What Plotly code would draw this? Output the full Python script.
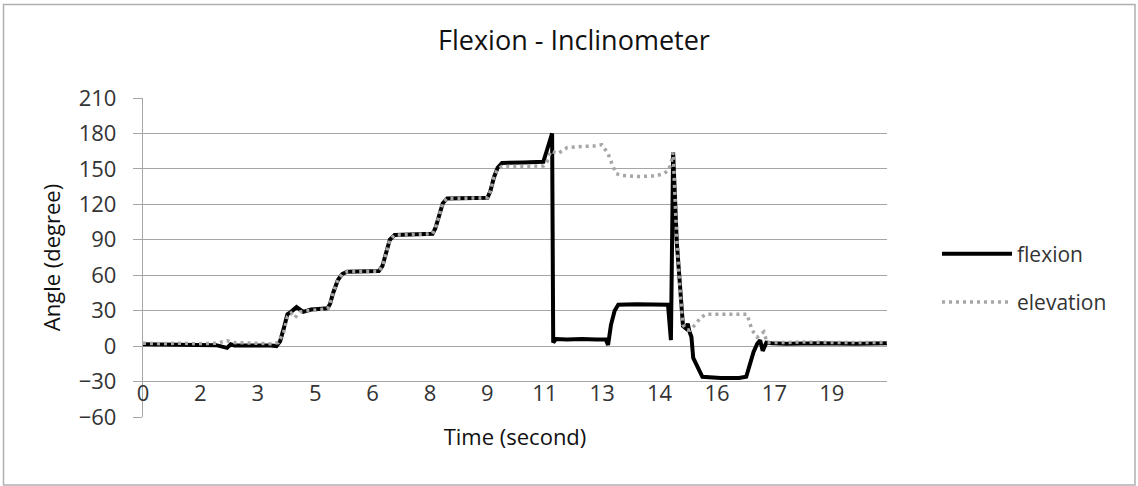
import plotly.graph_objects as go

# Flexion angle (black) – time in seconds, angle in degrees
flex_t = [0.0, 0.5, 1.0, 1.5, 2.0, 2.3, 2.4, 2.5, 3.0, 3.5, 3.65, 3.75, 3.85, 3.95,
          4.05, 4.2, 4.38, 4.6, 4.8, 5.05, 5.12, 5.2, 5.33, 5.45, 5.58, 6.0, 6.45,
          6.55, 6.65, 6.75, 6.88, 7.4, 7.92, 8.0, 8.1, 8.2, 8.32, 8.9, 9.42, 9.5,
          9.6, 9.7, 9.82, 10.4, 10.95, 11.05, 11.19, 11.22, 11.3, 11.6, 12.0, 12.4,
          12.66, 12.72, 12.8, 12.9, 13.0, 13.5, 14.0, 14.36, 14.44, 14.5, 14.6,
          14.7, 14.77, 14.85, 14.9, 14.95, 15.0, 15.05, 15.12, 15.2, 15.3, 15.8,
          16.3, 16.5, 16.6, 16.7, 16.8, 16.88, 16.95, 17.05, 17.2, 17.6, 18.5,
          19.5, 20.35]
flex_v = [1.5, 1.2, 1.0, 1.3, 0.8, -1.5, 1.5, 0.5, 0.8, 0.5, 0.0, 4, 15, 27,
          29, 33, 29, 31, 31.5, 32, 36, 45, 56, 61, 63, 63, 63.5,
          68, 80, 90, 94, 94.5, 95, 100, 112, 121, 125, 125, 125.5, 131,
          143, 151, 155, 155.5, 156, 166, 180, 3, 6, 5.5, 6, 5.5,
          5.5, 1, 18, 30, 35, 35.5, 35, 35, 5, 164, 88,
          40, 17, 15, 19, 12, 8, -10, -14, -20, -26, -27,
          -27, -26, -14, -5, 2, 5, -4, 3, 2.5, 2, 2.5,
          2, 2.5]

# Arm elevation (grey dotted)
elev_t = [0.0, 0.5, 1.0, 1.5, 2.0, 2.3, 2.5, 3.0, 3.5, 3.7, 3.85, 3.95, 4.05,
          4.15, 4.3, 4.5, 4.8, 5.05, 5.12, 5.2, 5.33, 5.45, 5.58, 6.0, 6.45,
          6.55, 6.65, 6.75, 6.88, 7.4, 7.92, 8.0, 8.1, 8.2, 8.32, 8.9, 9.42, 9.5,
          9.6, 9.7, 9.82, 10.4, 10.95, 11.05, 11.15, 11.35, 11.6, 12.0, 12.4,
          12.55, 12.72, 12.82, 12.94, 13.1, 13.5, 14.0, 14.25, 14.38, 14.45,
          14.5, 14.6, 14.7, 14.77, 14.86, 14.96, 15.1, 15.25, 15.4, 16.0, 16.52,
          16.66, 16.8, 16.98, 17.07, 17.5, 18.0, 19.0, 20.35]
elev_v = [2.5, 2.0, 2.5, 2.0, 2.5, 4.5, 3.0, 2.5, 2.0, 3, 12, 25, 28,
          24, 29, 30, 31, 31.5, 36, 45, 56, 61, 63, 63, 63.5,
          68, 80, 90, 94, 94.5, 95, 100, 112, 121, 125, 125, 125.5, 131,
          143, 150, 152, 152, 152.5, 156, 165, 163, 168, 169, 169.5,
          170.5, 163, 155, 146, 144.5, 143.5, 144, 146, 149, 156,
          164, 90, 42, 18, 14, 13.5, 18, 24, 27, 27, 27,
          13.5, 7.6, 12, 3, 3, 3.5, 3, 3]

# Category labels of the time axis (rounded seconds)
tick_times = [0, 1.57, 3.14, 4.71, 6.28, 7.85, 9.42, 10.99, 12.56, 14.13, 15.7, 17.27, 18.84]
tick_labels = ["0", "2", "3", "5", "6", "8", "9", "11", "13", "14", "16", "17", "19"]
y_ticks = [-60, -30, 0, 30, 60, 90, 120, 150, 180, 210]

FONT = "Open Sans"
GRID = "#a6a6a6"
TXT = "#333333"

fig = go.Figure()
fig.add_trace(go.Scatter(
    x=flex_t, y=flex_v, mode="lines", name="flexion", legendgroup="a",
    line=dict(color="#000000", width=4),
))
fig.add_trace(go.Scatter(
    x=elev_t, y=elev_v, mode="lines", name="elevation", legendgroup="b",
    line=dict(color="#a6a6a6", width=3.5, dash="3px,4px"),
))

W, H = 1138, 486
L, R, T, B = 143, 251, 98, 69
pw, ph = W - L - R, H - T - B


def px(xp):
    return (xp - L) / pw


def py(yp):
    return (H - B - yp) / ph


fig.update_layout(
    width=W, height=H,
    margin=dict(l=L, r=R, t=T, b=B, pad=0),
    paper_bgcolor="white", plot_bgcolor="white",
    font=dict(family=FONT, size=22, color=TXT),
    title=dict(text="Flexion - Inclinometer", x=574 / W, xref="container", xanchor="center",
               y=1 - 41 / H, yref="container", yanchor="middle",
               font=dict(family=FONT, size=27, color="#111111")),
    showlegend=True,
    legend=dict(x=937 / W, xref="container", xanchor="left",
                y=1 - 278 / H, yref="container", yanchor="middle",
                font=dict(family=FONT, size=21, color=TXT),
                traceorder="grouped", tracegroupgap=18, itemwidth=70,
                bgcolor="rgba(0,0,0,0)"),
    xaxis=dict(range=[0, 20.35], tickvals=tick_times, ticktext=tick_labels,
               showgrid=False, zeroline=False, showline=False, ticks="",
               anchor="free", position=33 / 270,
               tickfont=dict(family=FONT, size=22, color=TXT),
               title=dict(text="Time (second)", standoff=23,
                          font=dict(family=FONT, size=22, color="#111111"))),
    yaxis=dict(range=[-60, 210], tickvals=y_ticks, showgrid=True, gridcolor=GRID,
               gridwidth=1.3, zeroline=False, showline=True, linecolor=GRID,
               linewidth=1.3, ticks="outside", ticklen=9, tickcolor=GRID,
               tickwidth=1.3, ticklabelstandoff=12,
               tickfont=dict(family=FONT, size=22, color=TXT),
               title=dict(text="Angle (degree)", standoff=12,
                          font=dict(family=FONT, size=22, color="#111111"))),
    shapes=[dict(type="rect", xref="paper", yref="paper",
                 x0=px(3.5), x1=px(1135), y0=py(485), y1=py(4.5),
                 line=dict(color="#b0b0b0", width=1.5), fillcolor="rgba(0,0,0,0)",
                 layer="below")],
)

fig.write_html("out.html")
